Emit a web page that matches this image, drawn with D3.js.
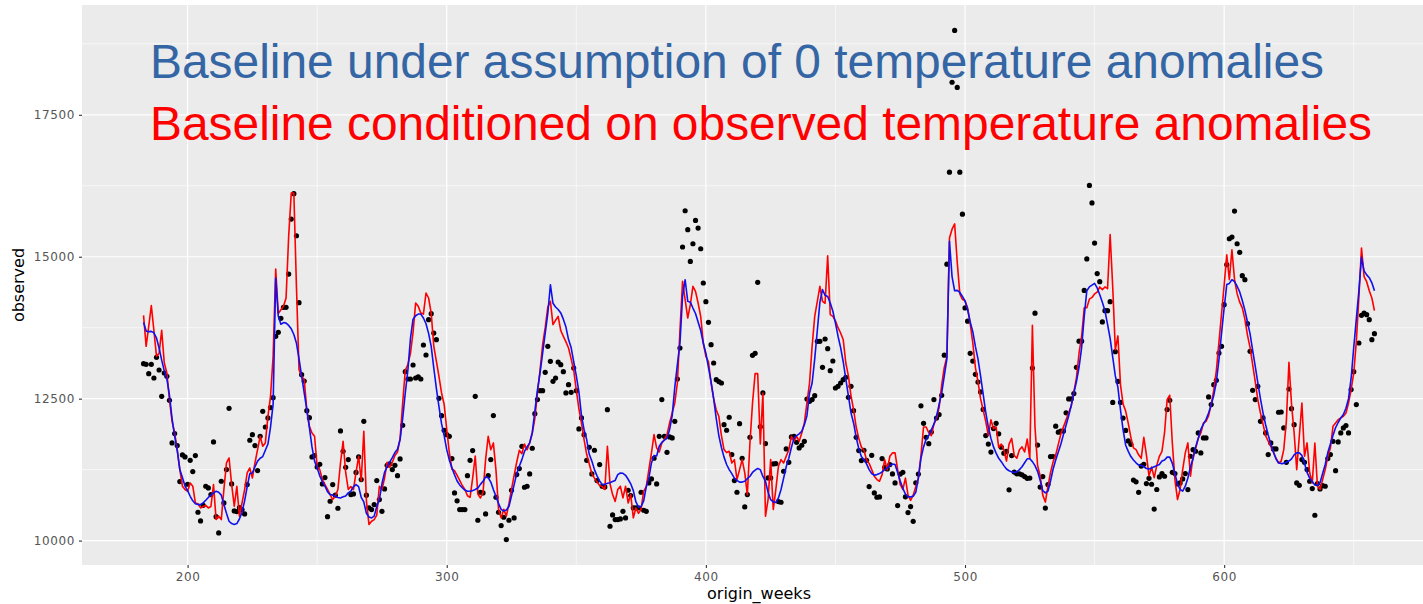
<!DOCTYPE html>
<html>
<head>
<meta charset="utf-8">
<script src="https://cdn.jsdelivr.net/npm/d3@7"></script>
<style>
  body { margin: 0; background: #fff; }
  svg { display: block; }
</style>
</head>
<body>
<div id="chart"></div>
<script>
// weekly data, origin_weeks 183 .. 658
var firstWeek = 183;

var observed = [
  13116, 13105, 12940, 13105, 12864, 13228, 13005,
  12541, 12952, 12893, 12471, 11720, 11884, 11673, 11039, 11508, 11473,
  10992, 11414, 11215, 11497, 10499, 10346, 10620, 10957, 10928, 10810,
  11737, 10420, 10135, 11045, 10663, 11250, 12330, 10998, 10522, 10510,
  10580, 10546, 10470, 10986, 11767, 11866, 11673, 11233, 11837, 12277,
  12001, 12160, 12342, 12518, 13597, 13668, 13915, 14108, 14108, 14695,
  15663, 16110, 15370, 14190, 12923, 12811, 12289, 12165, 11473, 11497,
  11297, 11344, 10998, 11110, 10420, 10693, 10986, 10800, 10569, 11931,
  11573, 11291, 11426, 10810, 10822, 11200, 11473, 11074, 12101, 10800,
  10575, 10546, 10634, 11056, 10722, 10516, 10910, 11326, 11350, 11250,
  11326, 11144, 11438, 12031, 12976, 12846, 12846, 13093, 12864, 12882,
  12846, 13445, 13269, 13891, 13997, 13656, 13539, 12506, 12200, 11943,
  11866, 11837, 11444, 10839, 10700, 10546, 10546, 10546, 11144, 11414,
  11585, 12541, 10358, 10851, 10839, 10470, 11144, 11426, 12201, 10763,
  10499, 10264, 10411, 10018, 10358, 10886, 10399, 11162, 11268, 11661,
  10939, 10957, 11174, 11626, 12236, 12483, 12641, 12641, 12964, 13422,
  13158, 12805, 12864, 13146, 13099, 12976, 12600, 12747, 12612, 13040,
  12641, 11966, 12160, 11866, 11414, 11643, 11174, 11591, 11056, 11338,
  10957, 10945, 12306, 10252, 10452, 10370, 10370, 10381, 10516, 10399,
  10886, 10792, 10575, 10575, 10575, 10851, 10534, 10516, 11015, 11086,
  11450, 10998, 11837, 12483, 11837, 11555, 11825, 11808, 12101, 12846,
  13392, 15171, 15810, 15476, 14918, 15229, 15640, 15505, 15141, 14537,
  14208, 13844, 13451, 13128, 12835, 12800, 12776, 12042, 11943, 12172,
  11514, 11056, 10851, 12060, 11450, 10593, 10810, 11819, 13263, 13298,
  14549, 12007, 12600, 11708, 11103, 11103, 11350, 11356, 10687, 10675,
  11221, 11614, 11379, 11825, 11837, 11731, 11632, 11679, 11749, 12494,
  12453, 12483, 12553, 13510, 13510, 13052, 13551, 13380, 12993, 13163,
  12688, 12717, 12776, 12835, 12876, 12524, 12717, 12289, 11819, 11585,
  11409, 11591, 11414, 10951, 11502, 10839, 10763, 10769, 11444, 11291,
  11262, 11338, 11174, 11015, 10616, 11171, 11202, 10770, 10493, 10598,
  10339, 11017, 11171, 12373, 12065, 11818, 11707, 11911, 12484, 12157,
  12219, 12558, 13266, 14868, 16490, 18074, 18986, 17982, 16490, 15750,
  14099, 13865, 13298, 13162, 12928, 12792, 12619, 12311, 11849, 11700,
  11559, 11972, 12065, 11880, 11645, 11540, 11571, 10894, 11497, 11207,
  11176, 11176, 11158, 11127, 11097, 11100, 13038, 14006, 11683, 10943,
  11127, 10573, 10986, 11479, 11479, 12015, 11910, 11930, 11930, 12250,
  12496, 12496, 12589, 13051, 13513, 13513, 14407, 14961, 16256, 15948,
  15240, 14703, 14561, 13852, 14049, 14049, 14209, 12434, 13328, 12804,
  12434, 12157, 11941, 11756, 11695, 11066, 11035, 10850, 11312, 11343,
  11004, 11097, 10992, 10555, 10900, 11121, 11180, 11133, 12307, 12471,
  11203, 11180, 10998, 11015, 11086, 11180, 10898, 11485, 11602, 11573,
  11896, 11544, 11808, 11808, 12530, 12395, 12747, 12823, 13304, 13422,
  14155, 14860, 15317, 15347, 15804, 15229, 15077, 14666, 14595, 13821,
  13334, 12647, 12483, 12717, 12101, 12160, 11896, 11514, 11720, 11614,
  11614, 12260, 12265, 11984, 11379, 12670, 12324, 12042, 11015, 10974,
  11426, 11379, 11250, 11045, 10916, 10446, 11004, 10910, 10968, 10957,
  11444, 11514, 11749, 11232, 11737, 11896, 11984, 12025, 11896, 12659,
  12976, 12395, 13480, 13967, 14008, 13979, 13891, 13539, 13645
];

// baseline conditioned on observed temperature anomalies (red)
var conditioned = [
  13967, 13422, 13774, 14138, 13700, 13245, 13300,
  13703, 13128, 12952, 12483, 12100, 11896, 11600, 11250, 10957, 10900,
  10869, 11015, 10957, 10663, 10650, 10575, 10600, 10620, 10575, 10600,
  10986, 10370, 10430, 10370, 10898, 11367, 11455, 10986, 10604, 10957,
  10428, 10663, 10898, 11191, 11279, 11103, 11367, 11602, 11837, 11661,
  11720, 12189, 12541, 13245, 14783, 14000, 14067, 14126, 14273, 15358,
  16121, 16121, 14478, 13011, 12893, 12835, 12306, 12013, 11896, 11837,
  11300, 11250, 11074, 10986, 10900, 10810, 10722, 10780, 10900, 11367,
  11750, 11200, 10900, 10950, 10898, 11200, 11485, 11050, 11925, 10700,
  10282, 10340, 10370, 10450, 10957, 10900, 11100, 11380, 11290, 11380,
  11500, 11560, 11800, 12424, 13000, 13100, 13300, 13668, 14185, 14126,
  14010, 13990, 14361, 14273, 14008, 13422, 13160, 12893, 12600, 12400,
  11960, 11550, 11260, 11230, 11150, 11060, 10970, 10900, 10790, 10760,
  11100, 11490, 10820, 10750, 10850, 11430, 11837, 11600, 11720, 11240,
  10550, 10400, 10550, 10430, 10650, 10900, 11150, 11380, 11590, 11530,
  11700, 11600, 11720, 11890, 12150, 12600, 13000, 13450, 13750, 14114,
  14214, 13803, 13880, 13950, 13700, 13598, 13500, 13392, 13200, 13000,
  12650, 12320, 12070, 11780, 11520, 11350, 11180, 11100, 11030, 10970,
  10950, 10900, 11661, 11000, 10810, 10690, 10900, 10957, 10751, 10957,
  10663, 10810, 10399, 10575, 10480, 10550, 10869, 10950, 11250, 11544,
  11866, 11632, 11560, 11720, 11780, 11866, 12072, 12250, 12424, 12776,
  13700, 14566, 14243, 13920, 14155, 14478, 14390, 14185, 13950, 13480,
  13245, 13150, 12776, 12500, 12300, 12189, 11850, 11602, 11550, 11573,
  11367, 11426, 11074, 11250, 11426, 11191, 10810, 11720, 12424, 12940,
  12940, 11700, 12600, 10428, 10722, 11426, 10546, 10900, 11309, 11426,
  11367, 11485, 11600, 11837, 11750, 11837, 11750, 11896, 12072, 12424,
  12776, 13422, 13950, 14214, 14478, 14214, 14180, 15018, 13979, 13950,
  13870, 13750, 13656, 13539, 13128, 12900, 12550, 12306, 12000, 11800,
  11650, 11590, 11420, 11360, 11250, 11133, 11074, 11045, 11162, 11426,
  11250, 11485, 11544, 11544, 11250, 10986, 10900, 11100, 10800, 10709,
  10800, 10950, 11100, 11500, 12000, 12000, 11900, 11849, 12050, 12150,
  12342, 12743, 13051, 13236, 15331, 15485, 15578, 14900, 14345, 14250,
  14222, 14098, 13821, 13482, 13051, 12800, 12500, 12300, 12100, 11850,
  12126, 11972, 12003, 11640, 11700, 11600, 11400, 11700, 11800, 11500,
  11450, 11600, 11650, 11560, 11787, 11448, 13790, 12000, 11325, 11140,
  10801, 10678, 10955, 11202, 11387, 11510, 11695, 11880, 12003, 12126,
  12250, 12373, 12619, 12866, 13300, 13600, 14100, 14100, 14253, 14283,
  14345, 14376, 14468, 14420, 14468, 14437, 15392, 14468, 13359, 13605,
  12743, 12404, 12280, 12065, 11818, 11633, 11602, 11510, 11448, 11818,
  11510, 11140, 11294, 11109, 11325, 11485, 11573, 11900, 12483, 12560,
  11720, 11074, 10722, 10900, 11250, 11544, 11720, 11133, 11485, 11620,
  11800, 11896, 12072, 12100, 12200, 12400, 12650, 13000, 13500, 14000,
  14500, 15035, 14595, 15123, 14600, 14350, 14200, 14100, 13900, 13620,
  13400, 13100, 12800, 12480, 12250, 12050, 11850, 11750, 11660, 11560,
  11450, 11367, 11397, 11602, 12100, 13140, 12400, 11900, 11250, 11837,
  12424, 11485, 11720, 11200, 11015, 11720, 10957, 10898, 11074, 11250,
  11485, 11632, 12013, 12072, 12130, 12160, 12189, 12248, 12424, 12659,
  12950, 13500, 14302, 15153, 14650, 14560, 14400, 14273, 14050
];

// baseline under assumption of 0 temperature anomalies (blue)
var baseline = [
  13844, 13690, 13680, 13685, 13660, 13568, 13390,
  13180, 12990, 12850, 12560, 12150, 11840, 11590, 11250, 11110, 10960,
  10880, 10780, 10700, 10650, 10634, 10634, 10663, 10710, 10760, 10800,
  10840, 10869, 10850, 10800, 10634, 10480, 10340, 10300, 10285, 10300,
  10380, 10500, 10700, 10950, 11180, 11190, 11300, 11400, 11450, 11480,
  11590, 11700, 12000, 12400, 14625, 13950, 13810, 13840, 13830, 13790,
  13730, 13630, 13480, 13200, 12900, 12600, 12306, 11990, 11650, 11400,
  11280, 11140, 11040, 10960, 10860, 10810, 10800, 10780, 10760, 10751,
  10770, 10785, 10840, 10869, 10950, 10986, 10950, 10760, 10680, 10480,
  10415, 10399, 10430, 10600, 10722, 11000, 11200, 11300, 11380, 11460,
  11550, 11610, 11778, 12150, 12600, 13000, 13560, 13900, 13960, 13990,
  13990, 13920, 13820, 13650, 13420, 13040, 12680, 12360, 12060, 11850,
  11602, 11420, 11280, 11160, 11050, 10980, 10930, 10890, 10870, 10870,
  10880, 10900, 10927, 10990, 11045, 11120, 11110, 11030, 10898, 10780,
  10650, 10550, 10520, 10540, 10600, 10790, 10980, 11180, 11310, 11426,
  11570, 11650, 11720, 11900, 12280, 12650, 12950, 13300, 13656, 14000,
  14507, 14180, 14114, 14070, 14010, 13900, 13760, 13540, 13400, 13150,
  12900, 12620, 12200, 11950, 11780, 11520, 11400, 11250, 11140, 11050,
  10986, 10990, 11010, 11020, 11040, 11060, 11162, 11191, 11185, 11150,
  11080, 11000, 10880, 10680, 10590, 10600, 10700, 10950, 11100, 11367,
  11500, 11490, 11661, 11730, 11770, 11800, 11954, 12200, 12700, 13100,
  13480, 14302, 14595, 14214, 14200, 14096, 14000, 13850, 13700, 13480,
  13300, 13050, 12800, 12500, 12150, 11850, 11640, 11470, 11340, 11250,
  11180, 11100, 11060, 11030, 11030, 11045, 11090, 11133, 11200, 11240,
  11270, 11250, 11130, 11045, 10850, 10720, 10680, 10670, 10751, 10900,
  11100, 11300, 11450, 11640, 11800, 11850, 11880, 11925, 12040, 12200,
  12600, 12776, 13200, 13700, 14200, 14420, 14320, 14300, 14185, 14040,
  13830, 13600, 13400, 13150, 12850, 12550, 12250, 12072, 11820, 11620,
  11480, 11426, 11350, 11250, 11180, 11150, 11162, 11180, 11210, 11250,
  11280, 11320, 11350, 11340, 11200, 11050, 10920, 10820, 10770, 10770,
  10780, 10850, 11100, 11450, 11650, 11787, 11850, 11950, 12050, 12188,
  12400, 12600, 12900, 13200, 15270, 14650, 14400, 14407, 14370, 14300,
  14222, 14070, 13850, 13680, 13420, 13200, 12900, 12580, 12260, 12000,
  11800, 11650, 11540, 11448, 11390, 11320, 11260, 11230, 11210, 11200,
  11210, 11250, 11300, 11370, 11440, 11440, 11390, 11320, 11220, 11060,
  10880, 10840, 10870, 11050, 11260, 11420, 11560, 11700, 11870, 12030,
  12200, 12380, 12600, 12800, 13050, 13400, 13950, 14400, 14470, 14500,
  14530, 14450, 14330, 14200, 14050, 13810, 13560, 13230, 12900, 12700,
  12300, 11950, 11680, 11572, 11480, 11420, 11370, 11330, 11325, 11300,
  11270, 11260, 11280, 11300, 11320, 11340, 11400, 11420, 11470, 11470,
  11360, 11180, 11000, 10900, 10870, 10957, 11100, 11300, 11440, 11650,
  11800, 11960, 12050, 12130, 12248, 12390, 12560, 12800, 13190, 13660,
  14100, 14510, 14530, 14595, 14560, 14480, 14380, 14230, 14060, 13850,
  13640, 13350, 13070, 12780, 12500, 12250, 12040, 11860, 11700, 11560,
  11440, 11367, 11356, 11360, 11380, 11400, 11440, 11510, 11544, 11544,
  11500, 11360, 11200, 11100, 11040, 10980, 10970, 11020, 11180, 11340,
  11550, 11700, 11850, 11990, 12080, 12160, 12220, 12330, 12500, 12860,
  13400, 13900, 14400, 14990, 14750, 14680, 14630, 14540, 14400
];

var xTicks = [200, 300, 400, 500, 600];
var yTicks = [10000, 12500, 15000, 17500];
var titleLines = [
  "Baseline under assumption of 0 temperature anomalies",
  "Baseline conditioned on observed temperature anomalies"
];

var weeks = observed.map(function(d, i) { return firstWeek + i; });

var w = 1423, h = 604;
// panel runs a bit past the right edge, like in the original crop
var padL = 82, padT = 5, panelW = 1354, panelH = 560;

var svg = d3.select("#chart").append("svg")
  .attr("width", w)
  .attr("height", h);

svg.append("rect").attr("width", w).attr("height", h).attr("fill", "#fff");

// ggplot style expansion of 5%
var xr = d3.extent(weeks), xpad = (xr[1] - xr[0]) * 0.05;
var allY = observed.concat(conditioned, baseline);
var yr = d3.extent(allY), ypad = (yr[1] - yr[0]) * 0.05;

var x = d3.scaleLinear().domain([xr[0] - xpad, xr[1] + xpad]).range([padL, padL + panelW]);
var y = d3.scaleLinear().domain([yr[0] - ypad, yr[1] + ypad]).range([padT + panelH, padT]);

svg.append("rect")
  .attr("x", padL).attr("y", padT)
  .attr("width", panelW).attr("height", panelH)
  .attr("fill", "#ebebeb");

var grid = svg.append("g");
var xMinor = [250, 350, 450, 550, 650];
var yMinor = [11250, 13750, 16250, 18750];

grid.selectAll(".yminor").data(yMinor).enter().append("line")
  .attr("x1", padL).attr("x2", padL + panelW)
  .attr("y1", function(d) { return y(d); }).attr("y2", function(d) { return y(d); })
  .attr("stroke", "#fff").attr("stroke-width", 0.6);
grid.selectAll(".xminor").data(xMinor).enter().append("line")
  .attr("y1", padT).attr("y2", padT + panelH)
  .attr("x1", function(d) { return x(d); }).attr("x2", function(d) { return x(d); })
  .attr("stroke", "#fff").attr("stroke-width", 0.6);
grid.selectAll(".ymajor").data(yTicks).enter().append("line")
  .attr("x1", padL).attr("x2", padL + panelW)
  .attr("y1", function(d) { return y(d); }).attr("y2", function(d) { return y(d); })
  .attr("stroke", "#fff").attr("stroke-width", 1.2);
grid.selectAll(".xmajor").data(xTicks).enter().append("line")
  .attr("y1", padT).attr("y2", padT + panelH)
  .attr("x1", function(d) { return x(d); }).attr("x2", function(d) { return x(d); })
  .attr("stroke", "#fff").attr("stroke-width", 1.2);

// axes
var yAxis = svg.append("g")
  .attr("transform", "translate(" + padL + ",0)")
  .call(d3.axisLeft(y).tickValues(yTicks).tickSize(3).tickPadding(4).tickFormat(d3.format("d")));
var xAxis = svg.append("g")
  .attr("transform", "translate(0," + (padT + panelH) + ")")
  .call(d3.axisBottom(x).tickValues(xTicks).tickSize(3).tickPadding(4).tickFormat(d3.format("d")));

[yAxis, xAxis].forEach(function(a) {
  a.select(".domain").remove();
  a.selectAll(".tick line").attr("stroke", "#333").attr("stroke-width", 1.1);
  a.selectAll(".tick text")
    .attr("fill", "#555")
    .style("font-family", "'DejaVu Sans', sans-serif")
    .style("font-size", "12px")
    .style("letter-spacing", "0.6px");
});

svg.append("text")
  .attr("x", padL + panelW / 2).attr("y", 599)
  .attr("text-anchor", "middle")
  .style("font-family", "'DejaVu Sans', sans-serif")
  .style("font-size", "16px")
  .attr("fill", "#000")
  .text("origin_weeks");

svg.append("text")
  .attr("transform", "translate(24," + (padT + panelH / 2) + ") rotate(-90)")
  .attr("text-anchor", "middle")
  .style("font-family", "'DejaVu Sans', sans-serif")
  .style("font-size", "16px")
  .attr("fill", "#000")
  .text("observed");

// data layers
svg.append("clipPath").attr("id", "panel")
  .append("rect").attr("x", padL).attr("y", padT).attr("width", panelW).attr("height", panelH);

var plot = svg.append("g").attr("clip-path", "url(#panel)");

plot.selectAll("circle")
  .data(observed)
  .enter()
  .append("circle")
  .attr("cx", function(d, i) { return x(weeks[i]); })
  .attr("cy", function(d) { return y(d); })
  .attr("r", 2.6)
  .attr("fill", "#000");

var line = d3.line()
  .x(function(d, i) { return x(weeks[i]); })
  .y(function(d) { return y(d); });

plot.append("path").datum(conditioned)
  .attr("d", line)
  .attr("fill", "none")
  .attr("stroke", "#ff0000")
  .attr("stroke-width", 1.6)
  .attr("stroke-linejoin", "round");

plot.append("path").datum(baseline)
  .attr("d", line)
  .attr("fill", "none")
  .attr("stroke", "#1010ee")
  .attr("stroke-width", 1.6)
  .attr("stroke-linejoin", "round");

// the two coloured caption lines
svg.selectAll(".caption")
  .data(titleLines)
  .enter()
  .append("text")
  .attr("x", 150)
  .attr("y", function(d, i) { return i === 0 ? 78 : 140; })
  .attr("fill", function(d, i) { return i === 0 ? "#3465a4" : "#ff0000"; })
  .style("font-family", "'Liberation Sans', Arial, sans-serif")
  .style("font-size", "47.9px")
  .text(function(d) { return d; });
</script>
</body>
</html>
